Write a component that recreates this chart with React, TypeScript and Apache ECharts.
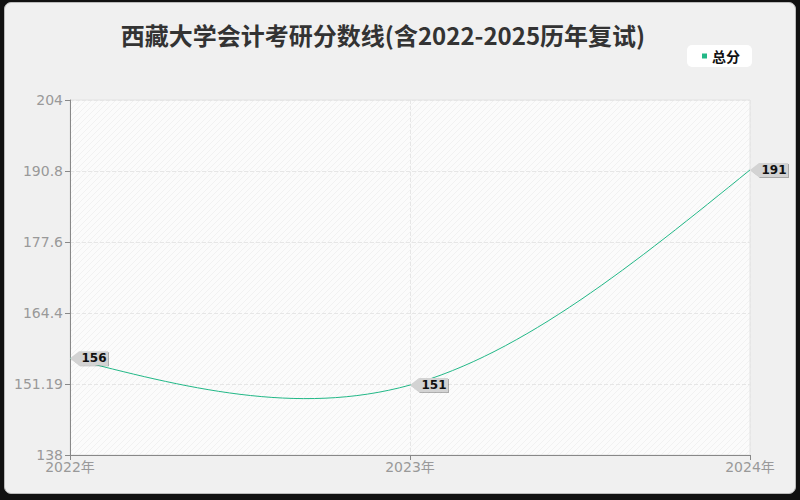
import { useEffect, useRef } from 'react';
import * as echarts from 'echarts';

const years = ['2022年', '2023年', '2024年'];
const totalScores = [156, 151, 191];
const yTickLabels = ['138', '151.19', '164.4', '177.6', '190.8', '204'];
const yMin = 138;
const yMax = 204;
const yStep = 13.2;

const FONT = '"Noto Sans CJK SC", "Noto Sans", sans-serif';
const NUM_FONT = '"DejaVu Sans", "Noto Sans CJK SC", sans-serif';
const LINE_GREEN = '#22b887';

// diagonal hatch for the plot background
const makeHatch = (): string => {
  const c = document.createElement('canvas');
  c.width = 6;
  c.height = 6;
  const ctx = c.getContext('2d');
  if (!ctx) return '';
  ctx.fillStyle = '#fbfbfb';
  ctx.fillRect(0, 0, 6, 6);
  ctx.strokeStyle = '#f1f1f1';
  ctx.lineWidth = 1;
  ctx.beginPath();
  ctx.moveTo(0, 6);
  ctx.lineTo(6, 0);
  ctx.moveTo(-3, 3);
  ctx.lineTo(3, -3);
  ctx.moveTo(3, 9);
  ctx.lineTo(9, 3);
  ctx.stroke();
  return c.toDataURL();
};

// natural cubic spline slopes through pixel points
const splineSlopes = (pts: number[][]): number[] => {
  const n = pts.length;
  if (n < 3) {
    const m = (pts[1][1] - pts[0][1]) / (pts[1][0] - pts[0][0]);
    return [m, m];
  }
  const h: number[] = [];
  for (let i = 0; i < n - 1; i++) h.push(pts[i + 1][0] - pts[i][0]);
  // second derivatives M, with M0 = Mn-1 = 0
  const a: number[] = new Array(n).fill(0);
  const b: number[] = new Array(n).fill(1);
  const c: number[] = new Array(n).fill(0);
  const d: number[] = new Array(n).fill(0);
  for (let i = 1; i < n - 1; i++) {
    a[i] = h[i - 1];
    b[i] = 2 * (h[i - 1] + h[i]);
    c[i] = h[i];
    d[i] = 6 * ((pts[i + 1][1] - pts[i][1]) / h[i] - (pts[i][1] - pts[i - 1][1]) / h[i - 1]);
  }
  for (let i = 1; i < n; i++) {
    const w = a[i] / b[i - 1];
    b[i] -= w * c[i - 1];
    d[i] -= w * d[i - 1];
  }
  const M: number[] = new Array(n).fill(0);
  M[n - 1] = d[n - 1] / b[n - 1];
  for (let i = n - 2; i >= 0; i--) M[i] = (d[i] - c[i] * M[i + 1]) / b[i];
  const slopes: number[] = [];
  for (let i = 0; i < n - 1; i++) {
    slopes.push((pts[i + 1][1] - pts[i][1]) / h[i] - (h[i] * (2 * M[i] + M[i + 1])) / 6);
  }
  const last = n - 2;
  slopes.push((pts[n - 1][1] - pts[last][1]) / h[last] + (h[last] * (M[last] + 2 * M[n - 1])) / 6);
  return slopes;
};

export default function App() {
  const ref = useRef<HTMLDivElement>(null);

  useEffect(() => {
    document.body.style.margin = '0';
    if (!ref.current) return;
    const chart = echarts.init(ref.current, null, { renderer: 'svg' });
    const hatch = makeHatch();

    const option: echarts.EChartsOption = {
      animation: false,
      backgroundColor: 'transparent',
      textStyle: { fontFamily: FONT },
      title: {
        text: '西藏大学会计考研分数线(含2022-2025历年复试)',
        left: 378,
        top: 17,
        textAlign: 'center',
        textStyle: { fontSize: 24, fontWeight: 'bold', color: '#333', fontFamily: FONT }
      },
      legend: {
        right: 48,
        top: 45,
        padding: [4, 12, 4, 15],
        backgroundColor: '#fff',
        borderRadius: 5,
        itemWidth: 5,
        itemHeight: 5,
        itemGap: 6,
        icon: 'rect',
        textStyle: { fontSize: 14, color: '#111', fontWeight: 'bold', fontFamily: FONT },
        data: ['总分']
      },
      grid: {
        left: 70,
        right: 50,
        top: 100,
        bottom: 45,
        show: true,
        borderColor: '#e2e2e2',
        borderWidth: 1,
        backgroundColor: hatch
          ? ({ image: hatch, repeat: 'repeat' } as any)
          : '#fbfbfb'
      },
      xAxis: {
        type: 'category',
        data: years,
        boundaryGap: false,
        axisLine: { lineStyle: { color: '#888' } },
        axisTick: { show: true, lineStyle: { color: '#888' } },
        axisLabel: { color: '#999', fontSize: 14, margin: 5, fontFamily: NUM_FONT },
        splitLine: { show: true, lineStyle: { color: '#e6e6e6', type: 'dashed' } }
      },
      yAxis: {
        type: 'value',
        min: yMin,
        max: yMax,
        interval: yStep,
        axisLine: { show: true, lineStyle: { color: '#888' } },
        axisTick: { show: true, lineStyle: { color: '#888' } },
        axisLabel: {
          color: '#999',
          fontSize: 14,
          margin: 7,
          fontFamily: NUM_FONT,
          formatter: (v: number) => {
            const i = Math.round((v - yMin) / yStep);
            return yTickLabels[i] ?? String(v);
          }
        },
        splitLine: { show: true, lineStyle: { color: '#e6e6e6', type: 'dashed' } }
      },
      series: [
        {
          // spline through the data points, placed by the axis scales
          name: 'spline',
          type: 'custom',
          data: totalScores.map((v, i) => [i, v]),
          silent: true,
          z: 3,
          renderItem: (params: any, api: any) => {
            if (params.dataIndex !== 0) return null;
            const pts = totalScores.map((v, i) => api.coord([i, v]));
            const m = splineSlopes(pts);
            const children: any[] = [];
            for (let i = 0; i < pts.length - 1; i++) {
              const h = (pts[i + 1][0] - pts[i][0]) / 3;
              children.push({
                type: 'bezierCurve',
                shape: {
                  x1: pts[i][0],
                  y1: pts[i][1],
                  cpx1: pts[i][0] + h,
                  cpy1: pts[i][1] + m[i] * h,
                  cpx2: pts[i + 1][0] - h,
                  cpy2: pts[i + 1][1] - m[i + 1] * h,
                  x2: pts[i + 1][0],
                  y2: pts[i + 1][1]
                },
                style: { stroke: LINE_GREEN, lineWidth: 1, fill: null }
              });
            }
            return { type: 'group', children };
          }
        } as any,
        {
          name: '总分',
          type: 'line',
          data: totalScores,
          showSymbol: false,
          itemStyle: { color: LINE_GREEN },
          lineStyle: { opacity: 0 },
          z: 4,
          markPoint: {
            symbol: 'path://M0,7 L9,0 L38,0 L38,14 L9,14 Z',
            symbolSize: [38, 14],
            symbolOffset: [19, 0],
            itemStyle: {
              color: '#d3d3d3',
              shadowColor: 'rgba(0,0,0,0.3)',
              shadowOffsetX: 1,
              shadowOffsetY: 1,
              shadowBlur: 1
            },
            label: {
              show: true,
              color: '#111',
              fontSize: 12,
              fontWeight: 'bold',
              fontFamily: NUM_FONT,
              offset: [5, 0],
              formatter: (p: any) => String(p.value)
            },
            data: totalScores.map((v, i) => ({ coord: [years[i], v], value: v }))
          }
        }
      ]
    };

    chart.setOption(option);
    return () => chart.dispose();
  }, []);

  return (
    <div style={{ width: 800, height: 500, background: '#111', position: 'relative' }}>
      <div
        style={{
          position: 'absolute',
          left: 4,
          top: 2,
          width: 790,
          height: 490,
          background: '#f0f0f0',
          border: '1px solid #bbb',
          borderRadius: 7
        }}
      />
      <div ref={ref} style={{ position: 'absolute', left: 0, top: 0, width: 800, height: 500 }} />
    </div>
  );
}
